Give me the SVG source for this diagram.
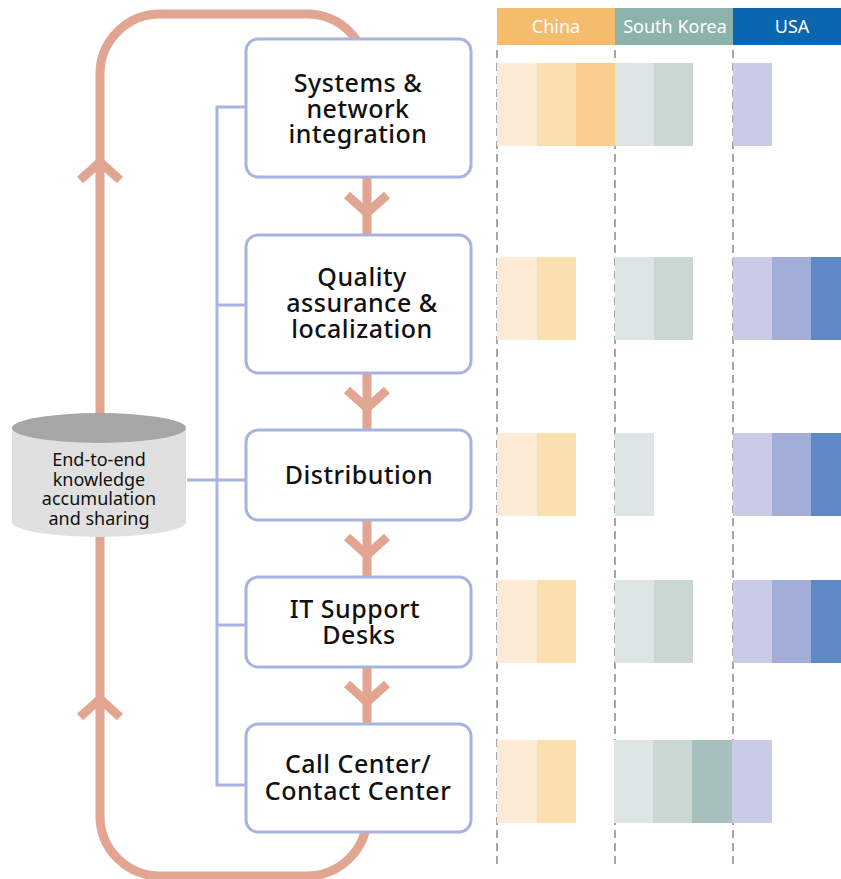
<svg xmlns="http://www.w3.org/2000/svg" width="841" height="879" viewBox="0 0 841 879">
<style>
.loop{fill:none;stroke:#E2A592;stroke-width:9}
.chev{fill:none;stroke:#E2A592;stroke-width:9;stroke-linejoin:miter;stroke-linecap:butt}
.tree{fill:none;stroke:#A8B4DD;stroke-width:3}
.box{fill:#fff;stroke:#A8B4DD;stroke-width:3}
.bt{font-family:"Noto Sans","Open Sans",sans-serif;font-size:25px;letter-spacing:0.5px;font-weight:500;fill:#111;text-anchor:middle}
.ht{font-family:"Noto Sans","Open Sans",sans-serif;font-size:18px;fill:#fff;text-anchor:middle}
.ct{font-family:"Noto Sans","Open Sans",sans-serif;font-size:18px;fill:#111;text-anchor:middle}
.dash{stroke:#8a8a8a;stroke-width:1.5;stroke-dasharray:8 5}
.c1{fill:#FCEBD7}.c2{fill:#FBDFAF}.c3{fill:#F9CD8E}
.k1{fill:#DDE6E4}.k2{fill:#CAD7D3}.k3{fill:#A8C0BD}
.u1{fill:#CACBE5}.u2{fill:#A2ADD8}.u3{fill:#5E88C6}
</style>
<g id="grid">
<rect x="497" y="8" width="118" height="37" fill="#F6BC6E"/>
<rect x="615" y="8" width="118" height="37" fill="#8CB3AB"/>
<rect x="733" y="8" width="108" height="37" fill="#0B66B0"/>
<text class="ht" x="556" y="33">China</text>
<text class="ht" x="675" y="33">South Korea</text>
<text class="ht" x="792" y="33">USA</text>
<line class="dash" x1="497" y1="50" x2="497" y2="868"/>
<line class="dash" x1="615" y1="50" x2="615" y2="868"/>
<line class="dash" x1="733" y1="50" x2="733" y2="868"/>
</g>
<g id="bars">
<rect class="c1" x="497" y="63" width="40" height="83"/><rect class="c2" x="537" y="63" width="39" height="83"/><rect class="c3" x="576" y="63" width="39" height="83"/>
<rect class="k1" x="615" y="63" width="39" height="83"/><rect class="k2" x="654" y="63" width="39" height="83"/>
<rect class="u1" x="733" y="63" width="39" height="83"/>

<rect class="c1" x="497" y="257" width="40" height="83"/><rect class="c2" x="537" y="257" width="39" height="83"/>
<rect class="k1" x="615" y="257" width="39" height="83"/><rect class="k2" x="654" y="257" width="39" height="83"/>
<rect class="u1" x="733" y="257" width="39" height="83"/><rect class="u2" x="772" y="257" width="39" height="83"/><rect class="u3" x="811" y="257" width="30" height="83"/>

<rect class="c1" x="497" y="433" width="40" height="83"/><rect class="c2" x="537" y="433" width="39" height="83"/>
<rect class="k1" x="615" y="433" width="39" height="83"/>
<rect class="u1" x="733" y="433" width="39" height="83"/><rect class="u2" x="772" y="433" width="39" height="83"/><rect class="u3" x="811" y="433" width="30" height="83"/>

<rect class="c1" x="497" y="580" width="40" height="83"/><rect class="c2" x="537" y="580" width="39" height="83"/>
<rect class="k1" x="615" y="580" width="39" height="83"/><rect class="k2" x="654" y="580" width="39" height="83"/>
<rect class="u1" x="733" y="580" width="39" height="83"/><rect class="u2" x="772" y="580" width="39" height="83"/><rect class="u3" x="811" y="580" width="30" height="83"/>

<rect class="c1" x="497" y="740" width="40" height="83"/><rect class="c2" x="537" y="740" width="39" height="83"/>
<rect class="k1" x="614" y="740" width="39" height="83"/><rect class="k2" x="653" y="740" width="39" height="83"/><rect class="k3" x="692" y="740" width="41" height="83"/>
<rect class="u1" x="732" y="740" width="40" height="83"/>
</g>
<g id="connectors">
<path class="loop" d="M100 816 L100 74 A60 60 0 0 1 160 14 L307 14 A60 60 0 0 1 367 74 L367 816 A60 60 0 0 1 307 876 L160 876 A60 60 0 0 1 100 816 Z"/>
<polyline class="chev" points="80,180 100,162 120,180"/>
<polyline class="chev" points="80,717 100,699 120,717"/>
<polyline class="chev" points="347,195 367,213 387,195"/>
<polyline class="chev" points="347,390 367,408 387,390"/>
<polyline class="chev" points="347,537 367,555 387,537"/>
<polyline class="chev" points="347,684 367,702 387,684"/>
<path class="tree" d="M246 107 L217 107 L217 785 L246 785 M217 305 L246 305 M187 480 L246 480 M217 625 L246 625"/>
</g>
<g id="knowledge">
<path d="M12 428 L12 522 A87 15 0 0 0 186 522 L186 428 Z" fill="#E0E0E0"/>
<ellipse cx="99" cy="428" rx="87" ry="15" fill="#A6A6A6"/>
<text class="ct" x="99" y="466">End-to-end</text>
<text class="ct" x="99" y="486">knowledge</text>
<text class="ct" x="99" y="505">accumulation</text>
<text class="ct" x="99" y="525">and sharing</text>
</g>
<g id="n1">
<rect class="box" x="246" y="39" width="225" height="138" rx="12"/>
<text class="bt" x="358" y="92">Systems &amp;</text>
<text class="bt" x="358" y="118">network</text>
<text class="bt" x="358" y="143">integration</text>
</g>
<g id="n2">
<rect class="box" x="246" y="235" width="225" height="138" rx="12"/>
<text class="bt" x="362" y="286">Quality</text>
<text class="bt" x="362" y="312">assurance &amp;</text>
<text class="bt" x="362" y="338">localization</text>
</g>
<g id="n3">
<rect class="box" x="246" y="430" width="225" height="90" rx="12"/>
<text class="bt" x="359" y="484">Distribution</text>
</g>
<g id="n4">
<rect class="box" x="246" y="577" width="225" height="90" rx="12"/>
<text class="bt" x="355" y="618">IT Support</text>
<text class="bt" x="359" y="644">Desks</text>
</g>
<g id="n5">
<rect class="box" x="246" y="724" width="225" height="108" rx="12"/>
<text class="bt" x="358" y="773">Call Center/</text>
<text class="bt" x="358" y="800">Contact Center</text>
</g>
</svg>
